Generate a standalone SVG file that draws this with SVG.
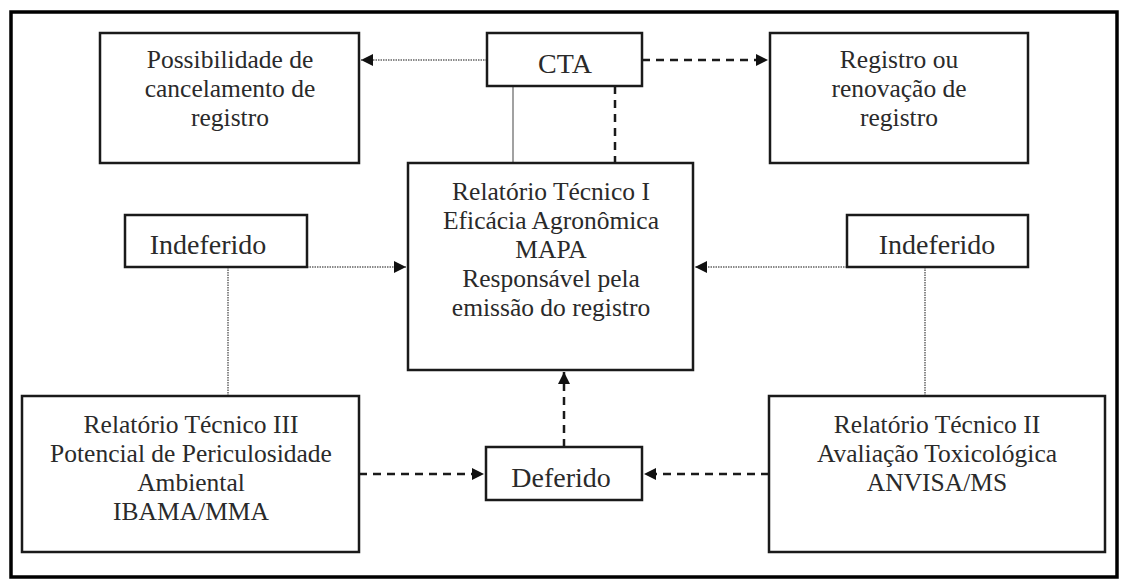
<svg xmlns="http://www.w3.org/2000/svg" width="1126" height="580" viewBox="0 0 1126 580">
<defs>
<style>
.box{fill:#fff;stroke:#1a1a1a;stroke-width:2.5}
.t{font-family:"Liberation Serif","Times New Roman",serif;font-size:25.5px;fill:#2a2a2a;text-anchor:middle}
.lbl{font-family:"Liberation Serif","Times New Roman",serif;font-size:28px;fill:#2a2a2a;text-anchor:middle}
.dot{stroke:#8a8a8a;stroke-width:2;stroke-dasharray:1.5 1;fill:none}
.thin{stroke:#8a8a8a;stroke-width:1.6;fill:none}
.dash{stroke:#1a1a1a;stroke-width:2.5;stroke-dasharray:8 6;fill:none}
</style>
<marker id="ah" viewBox="0 0 10 10" refX="10" refY="5" markerWidth="14" markerHeight="12" markerUnits="userSpaceOnUse" orient="auto">
<path d="M0,0 L10,5 L0,10 z" fill="#111"/>
</marker>
</defs>
<rect x="0" y="0" width="1126" height="580" fill="#fff"/>
<rect x="11" y="12" width="1106" height="565" fill="none" stroke="#000" stroke-width="3.5"/>

<g id="connectors">
<line class="dot" x1="487" y1="60" x2="361" y2="60" marker-end="url(#ah)"/>
<line class="dash" x1="642" y1="60" x2="768" y2="60" marker-end="url(#ah)"/>
<line class="thin" x1="513" y1="86" x2="513" y2="163"/>
<line class="dash" x1="615" y1="86" x2="615" y2="163"/>
<line class="dot" x1="307" y1="267" x2="406" y2="267" marker-end="url(#ah)"/>
<line class="dot" x1="847" y1="267" x2="695" y2="267" marker-end="url(#ah)"/>
<line class="dot" x1="228" y1="267" x2="228" y2="396"/>
<line class="dot" x1="925" y1="267" x2="925" y2="396"/>
<line class="dash" x1="564" y1="447" x2="564" y2="372" marker-end="url(#ah)"/>
<line class="dash" x1="359" y1="474" x2="484" y2="474" marker-end="url(#ah)"/>
<line class="dash" x1="769" y1="474" x2="644" y2="474" marker-end="url(#ah)"/>
</g>

<g id="possibilidade">
<rect class="box" x="100" y="33" width="259" height="130"/>
<text class="t" x="230" y="68">Possibilidade de</text>
<text class="t" x="230" y="97">cancelamento de</text>
<text class="t" x="230" y="126">registro</text>
</g>

<g id="cta">
<rect class="box" x="487" y="33" width="155" height="53"/>
<text class="lbl" x="565" y="73">CTA</text>
</g>

<g id="registro">
<rect class="box" x="770" y="33" width="258" height="130"/>
<text class="t" x="899" y="68">Registro ou</text>
<text class="t" x="899" y="97">renovação de</text>
<text class="t" x="899" y="126">registro</text>
</g>

<g id="relatorio1">
<rect class="box" x="408" y="163" width="285" height="207"/>
<text class="t" x="551" y="200">Relatório Técnico I</text>
<text class="t" x="551" y="229">Eficácia Agronômica</text>
<text class="t" x="551" y="258">MAPA</text>
<text class="t" x="551" y="287">Responsável pela</text>
<text class="t" x="551" y="316">emissão do registro</text>
</g>

<g id="indeferido-esq">
<rect class="box" x="125" y="215" width="182" height="52"/>
<text class="lbl" x="208" y="254">Indeferido</text>
</g>

<g id="indeferido-dir">
<rect class="box" x="847" y="215" width="181" height="52"/>
<text class="lbl" x="937" y="254">Indeferido</text>
</g>

<g id="relatorio3">
<rect class="box" x="22" y="396" width="337" height="156"/>
<text class="t" x="191" y="433">Relatório Técnico III</text>
<text class="t" x="191" y="462">Potencial de Periculosidade</text>
<text class="t" x="191" y="491">Ambiental</text>
<text class="t" x="191" y="520">IBAMA/MMA</text>
</g>

<g id="deferido">
<rect class="box" x="486" y="447" width="156" height="53"/>
<text class="lbl" x="561" y="487">Deferido</text>
</g>

<g id="relatorio2">
<rect class="box" x="769" y="396" width="336" height="156"/>
<text class="t" x="937" y="433">Relatório Técnico II</text>
<text class="t" x="937" y="462">Avaliação Toxicológica</text>
<text class="t" x="937" y="491">ANVISA/MS</text>
</g>
</svg>
